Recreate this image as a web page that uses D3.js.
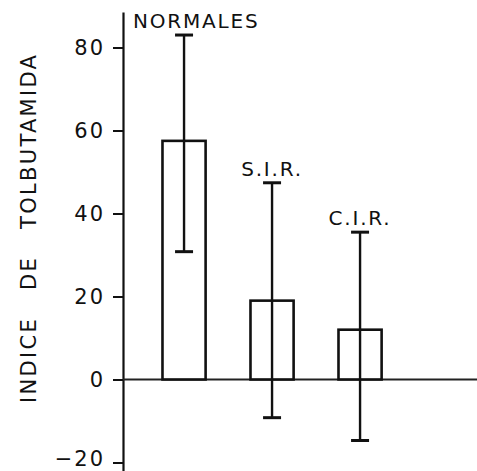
<!DOCTYPE html>
<html>
<head>
<meta charset="utf-8">
<script src="https://cdn.jsdelivr.net/npm/d3@7"></script>
<style>
  body { margin: 0; background: #fff; }
  svg { display: block; }
  text { font-family: "DejaVu Sans", sans-serif; fill: #111; }
</style>
</head>
<body>
<div id="chart"></div>
<script>
const categories = ["NORMALES", "S.I.R.", "C.I.R."];
const means = [57.5, 19, 12];
const upper = [83, 47.4, 35.5];
const lower = [30.8, -9.2, -14.7];
const yTicks = [-20, 0, 20, 40, 60, 80];
const yTitle = "INDICE   DE   TOLBUTAMIDA";

const w = 477; //Width
const h = 471; //Height
const axisX = 123;
const capHalf = 9;

const xScale = d3.scaleBand()
                 .domain(categories)
                 .range([117.6, 426.5])
                 .paddingInner(0.51)
                 .paddingOuter(0.51);

// axis line runs past the outer ticks, so the domain is a bit wider than the ticks
const yScale = d3.scaleLinear()
                 .domain([-22.05, 88.55])
                 .range([h, 12]);

const svg = d3.select("#chart")
              .append("svg")
              .attr("width", w)
              .attr("height", h);

//Y axis
const yAxis = d3.axisLeft()
                .scale(yScale)
                .tickValues(yTicks)
                .tickSize(10)
                .tickSizeOuter(0)
                .tickPadding(8);

const gy = svg.append("g")
  .attr("transform", "translate(" + axisX + ",0)")
  .call(yAxis);

gy.select(".domain")
  .attr("stroke", "#111")
  .attr("stroke-width", 2.2);
gy.selectAll(".tick line")
  .attr("stroke", "#111")
  .attr("stroke-width", 2);
gy.selectAll(".tick text")
  .attr("font-size", 21)
  .attr("letter-spacing", 2)
  .attr("fill", "#111");

// nudge a tick label up if it would run past the bottom edge
gy.selectAll(".tick").each(function(d) {
  const t = d3.select(this).select("text").node();
  const bb = t.getBBox();
  const bottom = yScale(d) + bb.y + bb.height;
  if (bottom > h) {
    d3.select(t).attr("y", -(bottom - h + 0.5));
  }
});

//Zero line
svg.append("line")
  .attr("x1", axisX)
  .attr("x2", w)
  .attr("y1", yScale(0))
  .attr("y2", yScale(0))
  .attr("stroke", "#222")
  .attr("stroke-width", 1.8);

//Bars
svg.selectAll(".bar")
  .data(categories)
  .enter()
  .append("rect")
  .attr("class", "bar")
  .attr("x", d => xScale(d))
  .attr("y", (d, i) => yScale(means[i]))
  .attr("width", xScale.bandwidth())
  .attr("height", (d, i) => yScale(0) - yScale(means[i]))
  .attr("fill", "#fff")
  .attr("stroke", "#111")
  .attr("stroke-width", 2.6);

//Error bars
const cx = d => xScale(d) + xScale.bandwidth() / 2;

svg.selectAll(".err")
  .data(categories)
  .enter()
  .append("line")
  .attr("class", "err")
  .attr("x1", cx)
  .attr("x2", cx)
  .attr("y1", (d, i) => yScale(upper[i]))
  .attr("y2", (d, i) => yScale(lower[i]))
  .attr("stroke", "#111")
  .attr("stroke-width", 2.4);

[upper, lower].forEach(arr => {
  svg.selectAll(null)
    .data(categories)
    .enter()
    .append("line")
    .attr("x1", d => cx(d) - capHalf)
    .attr("x2", d => cx(d) + capHalf)
    .attr("y1", (d, i) => yScale(arr[i]))
    .attr("y2", (d, i) => yScale(arr[i]))
    .attr("stroke", "#111")
    .attr("stroke-width", 3);
});

//Group labels above the upper caps
const labels = svg.selectAll(".lab")
  .data(categories)
  .enter()
  .append("text")
  .attr("class", "lab")
  .attr("x", cx)
  .attr("y", (d, i) => yScale(upper[i]) - 7)
  .attr("font-size", 20)
  .attr("letter-spacing", 1.8)
  .attr("text-anchor", "middle")
  .text(d => d);

// keep labels clear of the y axis
labels.each(function(d) {
  const bw = this.getBBox().width;
  const left = cx(d) - bw / 2;
  if (left < axisX + 10) {
    d3.select(this).attr("x", cx(d) + (axisX + 10 - left));
  }
});

//Y title
svg.append("text")
  .attr("transform", "translate(36," + (55 + 403) / 2 + ") rotate(-90)")
  .attr("text-anchor", "middle")
  .attr("font-size", 21)
  .attr("textLength", 348)
  .attr("lengthAdjust", "spacing")
  .style("white-space", "pre")
  .text(yTitle);
</script>
</body>
</html>
